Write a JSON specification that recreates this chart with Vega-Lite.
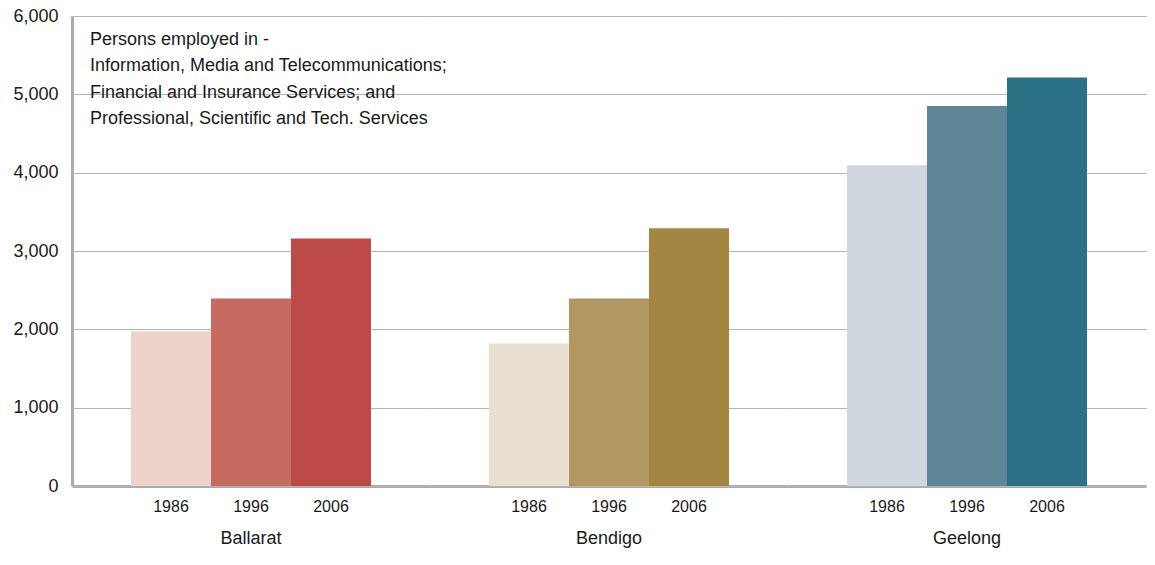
{
  "$schema": "https://vega.github.io/schema/vega-lite/v6.json",
  "background": "white",
  "padding": {"left": 12, "top": 7, "right": 8, "bottom": 5},
  "data": {
    "values": [
      {"city": "Ballarat", "year": "1986", "key": "Ballarat 1986", "value": 1975},
      {"city": "Ballarat", "year": "1996", "key": "Ballarat 1996", "value": 2395},
      {"city": "Ballarat", "year": "2006", "key": "Ballarat 2006", "value": 3160},
      {"city": "Bendigo", "year": "1986", "key": "Bendigo 1986", "value": 1820},
      {"city": "Bendigo", "year": "1996", "key": "Bendigo 1996", "value": 2395},
      {"city": "Bendigo", "year": "2006", "key": "Bendigo 2006", "value": 3290},
      {"city": "Geelong", "year": "1986", "key": "Geelong 1986", "value": 4095},
      {"city": "Geelong", "year": "1996", "key": "Geelong 1996", "value": 4850},
      {"city": "Geelong", "year": "2006", "key": "Geelong 2006", "value": 5215}
    ]
  },
  "title": {
    "text": ["Persons employed in -", "Information, Media and Telecommunications;", "Financial and Insurance Services; and", "Professional, Scientific and Tech. Services"],
    "anchor": "start",
    "frame": "group",
    "font": "Liberation Sans",
    "fontSize": 18,
    "fontWeight": "normal",
    "color": "#1a1a1a",
    "lineHeight": 26.5,
    "offset": 0,
    "dx": 18,
    "dy": 121
  },
  "facet": {
    "column": {
      "field": "city",
      "type": "nominal",
      "sort": ["Ballarat", "Bendigo", "Geelong"],
      "header": {
        "title": null,
        "labelOrient": "bottom",
        "labelFont": "Liberation Sans",
        "labelFontSize": 18,
        "labelColor": "#1a1a1a",
        "labelPadding": 16
      }
    }
  },
  "spacing": 0,
  "spec": {
    "width": 358,
    "height": 470,
    "mark": {"type": "bar"},
    "encoding": {
      "x": {
        "field": "year",
        "type": "ordinal",
        "scale": {"paddingInner": 0, "paddingOuter": 0.7375},
        "axis": {
          "title": null,
          "ticks": false,
          "labelAngle": 0,
          "labelFont": "Liberation Sans",
          "labelFontSize": 16,
          "labelColor": "#1a1a1a",
          "labelPadding": 12,
          "domainColor": "#ababab",
          "domainWidth": 3
        }
      },
      "y": {
        "field": "value",
        "type": "quantitative",
        "scale": {"domain": [0, 6000], "nice": false},
        "axis": {
          "title": null,
          "values": [0, 1000, 2000, 3000, 4000, 5000, 6000],
          "format": ",.0f",
          "ticks": false,
          "labelFont": "Liberation Sans",
          "labelFontSize": 18,
          "labelColor": "#1a1a1a",
          "labelPadding": 14,
          "domainColor": "#ababab",
          "domainWidth": 3,
          "gridColor": "#b3b3b3",
          "gridWidth": 1
        }
      },
      "color": {
        "field": "key",
        "type": "nominal",
        "scale": {
          "domain": ["Ballarat 1986", "Ballarat 1996", "Ballarat 2006", "Bendigo 1986", "Bendigo 1996", "Bendigo 2006", "Geelong 1986", "Geelong 1996", "Geelong 2006"],
          "range": ["#edd3ca", "#c76b61", "#bc4b48", "#e8dfcf", "#b39763", "#a48541", "#d0d7de", "#5e8697", "#2c7287"]
        },
        "legend": null
      }
    }
  },
  "config": {
    "view": {"stroke": null},
    "font": "Liberation Sans"
  }
}
